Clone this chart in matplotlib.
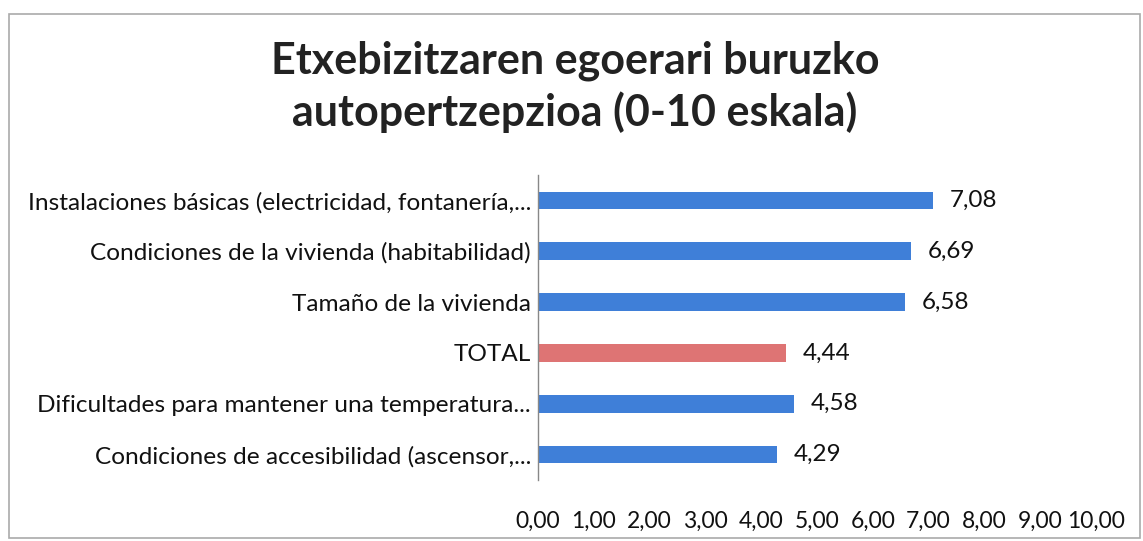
import matplotlib.pyplot as plt
from matplotlib.patches import Rectangle

# datos
categorias = ["Instalaciones básicas (electricidad, fontanería,...",
              "Condiciones de la vivienda (habitabilidad)",
              "Tamaño de la vivienda",
              "TOTAL",
              "Dificultades para mantener una temperatura...",
              "Condiciones de accesibilidad (ascensor,..."]
valores = [7.08, 6.69, 6.58, 4.44, 4.58, 4.29]
colores = ["#3f7fd8", "#3f7fd8", "#3f7fd8", "#de7474", "#3f7fd8", "#3f7fd8"]
ticks_x = [0, 1, 2, 3, 4, 5, 6, 7, 8, 9, 10]

plt.rcParams['font.family'] = ['Lato', 'DejaVu Sans']

fig = plt.figure(figsize=(11.43, 5.41), dpi=100)
ax = fig.add_axes([0.4707, 0.1128, 0.4882, 0.5637])

pos = list(range(len(categorias)))
ax.barh(pos, valores, height=0.35, color=colores)
ax.set_ylim(len(categorias) - 0.5, -0.5)
ax.set_xlim(0, 10)

# etiquetas de valores
for p, v in zip(pos, valores):
    ax.text(v + 0.3, p, f"{v:.2f}".replace(".", ","), va='center', ha='left',
            fontsize=17.5, color='#111111')

ax.set_yticks(pos)
ax.set_yticklabels(categorias, fontsize=17.6, color='#111111')
ax.set_xticks(ticks_x)
ax.set_xticklabels([f"{t:.2f}".replace(".", ",") for t in ticks_x], fontsize=16.5, color='#111111')
ax.tick_params(axis='both', length=0)
ax.tick_params(axis='y', pad=5)
ax.tick_params(axis='x', pad=22)

for s in ['top', 'right', 'bottom']:
    ax.spines[s].set_visible(False)
ax.spines['left'].set_color('#888888')
ax.spines['left'].set_linewidth(1)

# título
fig.text(0.503, 0.84, "Etxebizitzaren egoerari buruzko\nautopertzepzioa (0-10 eskala)",
         ha='center', va='center', fontsize=31, fontweight='bold', color='#222222',
         linespacing=1.3)

# marco del gráfico
fig.patches.append(Rectangle((0.008, 0.005), 0.989, 0.97, transform=fig.transFigure,
                             fill=False, edgecolor='#aaaaaa', linewidth=1.2))

fig.savefig("out.png", dpi=100, facecolor='white')
